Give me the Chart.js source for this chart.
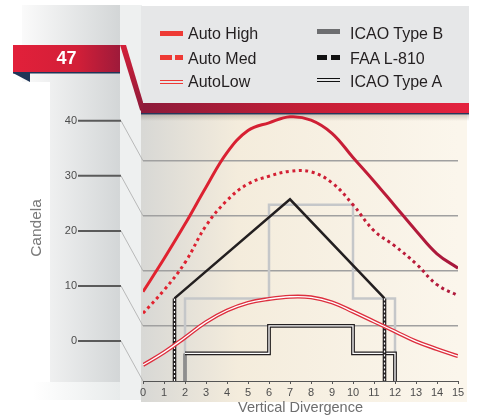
<!DOCTYPE html>
<html>
<head>
<meta charset="utf-8">
<script src="https://cdn.jsdelivr.net/npm/chart.js@4.4.1/dist/chart.umd.min.js"></script>
<style>
  html, body { margin:0; padding:0; background:#fff; }
  #wrap { position:relative; width:477px; height:420px; overflow:hidden; font-family:"Liberation Sans", Arial, sans-serif; }
  #chart { position:absolute; left:0; top:0; }
  .txt { position:absolute; font-size:16px; line-height:18px; color:#231f20; white-space:nowrap; }
  .sw { position:absolute; }
  #badge { position:absolute; left:13px; top:45px; width:107px; height:27px; line-height:27px; text-align:center;
           color:#fff; font-weight:bold; font-size:18px; }
  #ylab { position:absolute; left:-14px; top:219px; width:100px; text-align:center; font-size:15.5px; line-height:18px;
          color:#7a7a7a; transform:rotate(-90deg); }
</style>
</head>
<body>
<div id="wrap">
  <canvas id="chart" width="477" height="420"></canvas>
  <div id="badge">47</div>
  <div id="ylab">Candela</div>
  <div id="legend"></div>
</div>
<script>
// Data
const divergence = [0, 1, 2, 3, 4, 5, 6, 7, 8, 9, 10, 11, 12, 13, 14, 15];
const autoHigh = [16.2, 22.2, 28.5, 35.2, 41.5, 45.5, 46.9, 48, 47.4, 45, 40.6, 36.3, 31.8, 27.3, 23.1, 20.5];
const autoMed  = [12.3, 16.5, 21.5, 28.2, 32.8, 35.8, 37.2, 38.1, 38, 36, 32, 27.3, 24.5, 21.3, 17.5, 15.5];
const autoLow  = [2.9, 5.2, 7.9, 10.7, 12.8, 14.2, 14.9, 15.3, 15.2, 14.3, 12.6, 10.8, 9, 7.2, 5.8, 4.5];
const icaoBX = [2, 2, 6, 6, 10, 10, 12, 12];
const icaoBY = [0, 15, 15, 32, 32, 15, 15, 0];
const faaX = [1.5, 1.5, 7, 11.5, 11.5];
const faaY = [0, 15, 33, 15, 0];
const icaoAX = [2, 2, 6, 6, 10, 10, 12, 12];
const icaoAY = [0, 5, 5, 10, 10, 5, 5, 0];
const seriesNames = ['Auto High', 'Auto Med', 'AutoLow', 'ICAO Type B', 'FAA L-810', 'ICAO Type A'];

const pts = (xs, ys) => xs.map((x, i) => ({x: x, y: ys[i]}));
const curve = ys => pts(divergence, ys);

Chart.defaults.font.family = "'Liberation Sans', Arial, sans-serif";

// Legend (html, real text)
const legendEl = document.getElementById('legend');
const swatches = [
  '<div class="sw" style="left:160px;top:31px;width:23px;height:5px;background:#ee3a35"></div>',
  '<div class="sw" style="left:160px;top:55px;width:12px;height:5px;background:#ee3a35"></div>' +
  '<div class="sw" style="left:175px;top:55px;width:8px;height:5px;background:#ee3a35"></div>',
  '<div class="sw" style="left:160px;top:80px;width:23px;height:2px;border-top:1.5px solid #ee3a35;border-bottom:1.5px solid #ee3a35"></div>',
  '<div class="sw" style="left:317px;top:29px;width:23px;height:4.5px;background:#6d6e70"></div>',
  '<div class="sw" style="left:317px;top:55px;width:10px;height:5px;background:#111"></div>' +
  '<div class="sw" style="left:331px;top:55px;width:9px;height:5px;background:#111"></div>',
  '<div class="sw" style="left:317px;top:78px;width:23px;height:2px;border-top:1.5px solid #111;border-bottom:1.5px solid #111"></div>'
];
const rowTops = [25.3, 49.8, 73.3];
seriesNames.forEach((name, i) => {
  const col = i < 3 ? 188 : 350;
  legendEl.insertAdjacentHTML('beforeend', swatches[i] +
    '<div class="txt" style="left:' + col + 'px;top:' + rowTops[i % 3] + 'px">' + name + '</div>');
});

// page decoration behind the plot
const backdrop = {
  id: 'backdrop',
  beforeDraw(chart) {
    const {ctx, chartArea: a} = chart;
    ctx.save();
    ctx.fillStyle = '#fff';
    ctx.fillRect(0, 0, chart.width, chart.height);

    let g = ctx.createLinearGradient(20, 0, 120, 0);
    g.addColorStop(0, '#fbfbfb'); g.addColorStop(1, '#d3d6d7');
    ctx.fillStyle = g;
    ctx.fillRect(22, 5, 98, 377);
    ctx.fillStyle = '#fff';
    ctx.fillRect(0, 82, 50, 300);
    g = ctx.createLinearGradient(33, 0, 120, 0);
    g.addColorStop(0, '#ffffff'); g.addColorStop(1, '#e8ebeb');
    ctx.fillStyle = g;
    ctx.fillRect(33, 382, 87, 18);
    ctx.fillStyle = '#eef0f0';
    ctx.fillRect(120, 5, 22, 395);

    // plot background
    g = ctx.createLinearGradient(a.left, 0, a.right, 0);
    g.addColorStop(0, '#d8d8d5'); g.addColorStop(0.3, '#f4ecdc'); g.addColorStop(1, '#fbf6ec');
    ctx.fillStyle = g;
    ctx.fillRect(a.left - 2, a.top, a.right + 11 - a.left, a.bottom + 21 - a.top);

    // legend box + red band
    ctx.fillStyle = '#e6e7e8';
    ctx.fillRect(141, 6, 328, 97);
    g = ctx.createLinearGradient(141, 0, 469, 0);
    g.addColorStop(0, '#8c1a3a'); g.addColorStop(0.5, '#c41e36'); g.addColorStop(1, '#e4233f');
    ctx.fillStyle = g;
    ctx.fillRect(141, 103, 328, 10);
    ctx.fillStyle = '#26385a';
    ctx.fillRect(141, 113, 328, 1.5);
    g = ctx.createLinearGradient(0, 114.5, 0, 121);
    g.addColorStop(0, 'rgba(90,70,50,0.25)'); g.addColorStop(1, 'rgba(90,70,50,0)');
    ctx.fillStyle = g;
    ctx.fillRect(141, 114.5, 328, 7);

    // badge
    g = ctx.createLinearGradient(13, 0, 120, 0);
    g.addColorStop(0, '#e2203a'); g.addColorStop(0.6, '#d21f38'); g.addColorStop(1, '#9e1a3a');
    ctx.fillStyle = g;
    ctx.fillRect(13, 45, 107, 27);
    ctx.fillStyle = '#1f3557';
    ctx.fillRect(13, 72, 107, 1.5);
    ctx.beginPath();
    ctx.moveTo(13, 73); ctx.lineTo(30, 73); ctx.lineTo(30, 82); ctx.closePath();
    ctx.fill();

    // slanted strip joining badge and band
    g = ctx.createLinearGradient(0, 45, 0, 113);
    g.addColorStop(0, '#d42039'); g.addColorStop(1, '#8c1a3a');
    ctx.fillStyle = g;
    ctx.beginPath();
    ctx.moveTo(120, 45); ctx.lineTo(126, 45); ctx.lineTo(143, 102);
    ctx.lineTo(143, 113); ctx.lineTo(140, 110); ctx.closePath();
    ctx.fill();
    ctx.restore();
  }
};

// lines linking the offset left labels to the gridlines
const connectors = {
  id: 'connectors',
  afterDraw(chart) {
    const {ctx} = chart;
    const y = chart.scales.y;
    ctx.save();
    y.ticks.forEach(t => {
      const gy = y.getPixelForValue(t.value);
      const ly = gy - 40;
      ctx.strokeStyle = '#5a5a5a';
      ctx.lineWidth = 2;
      ctx.beginPath(); ctx.moveTo(78, ly); ctx.lineTo(121, ly); ctx.stroke();
      ctx.strokeStyle = '#a0a0a0';
      ctx.lineWidth = 0.7;
      ctx.beginPath(); ctx.moveTo(121, ly); ctx.lineTo(143, gy); ctx.stroke();
    });
    ctx.restore();
  }
};

function redGrad(c, from, to) {
  const a = c.chart.chartArea;
  if (!a) return from;
  const g = c.chart.ctx.createLinearGradient(a.left, 0, a.right, 0);
  g.addColorStop(0, from); g.addColorStop(0.55, '#cf1f35'); g.addColorStop(1, to);
  return g;
}
const isVert = c => c.p0.parsed.x === c.p1.parsed.x;
const clear = 'rgba(0,0,0,0)';

new Chart(document.getElementById('chart'), {
  type: 'line',
  data: {
    datasets: [
      {label: 'Auto High', data: curve(autoHigh), borderColor: c => redGrad(c, '#e3232f', '#a6183d'),
       borderWidth: 3, tension: 0.4, order: 1},
      {label: 'Auto Med', data: curve(autoMed), borderColor: c => redGrad(c, '#e3232f', '#ae1a3d'),
       borderWidth: 3, borderDash: [3, 3.5], tension: 0.4, order: 2},
      {label: 'AutoLow inner', data: curve(autoLow), borderColor: '#fff', borderWidth: 1.3, tension: 0.4, order: 3},
      {label: 'AutoLow', data: curve(autoLow), borderColor: '#dd2f3e', borderWidth: 4, tension: 0.4, order: 4},
      {label: 'FAA inner', data: pts(faaX, faaY), borderWidth: 1.2, borderDash: [2, 2], tension: 0, order: 5,
       segment: {borderColor: c => isVert(c) ? '#fff' : clear}},
      {label: 'FAA L-810', data: pts(faaX, faaY), borderColor: '#231f20', tension: 0, order: 6,
       segment: {borderWidth: c => isVert(c) ? 3.6 : 2.5}},
      {label: 'ICAO A inner', data: pts(icaoAX, icaoAY), borderWidth: 1.3, tension: 0, order: 7,
       segment: {borderColor: c => c.p0DataIndex === 0 ? clear : '#fff'}},
      {label: 'ICAO Type A', data: pts(icaoAX, icaoAY), borderWidth: 3.8, tension: 0, order: 8,
       segment: {borderColor: c => c.p0DataIndex === 0 ? '#8e8e8e' : '#231f20'}},
      {label: 'ICAO Type B', data: pts(icaoBX, icaoBY), borderColor: '#c5c7c9', borderWidth: 2.5, tension: 0, order: 9}
    ]
  },
  options: {
    responsive: false,
    animation: false,
    layout: {padding: {left: 0, right: 19, top: 114, bottom: 0}},
    elements: {point: {radius: 0}, line: {borderCapStyle: 'butt', borderJoinStyle: 'miter', fill: false}},
    plugins: {legend: {display: false}, tooltip: {enabled: false}},
    scales: {
      x: {
        type: 'linear', min: 0, max: 15,
        ticks: {stepSize: 1, autoSkip: false, maxRotation: 0, padding: 2, color: '#4d4d4d', font: {size: 11}},
        grid: {drawOnChartArea: false, drawTicks: true, tickLength: 3, color: '#555'},
        border: {color: '#555', width: 1},
        title: {display: true, text: 'Vertical Divergence', color: '#6e6e6e', font: {size: 14.5}, padding: {top: 0, bottom: 3}},
        afterFit: s => { s.height = 39; }
      },
      y: {
        min: 0, max: 48.5,
        ticks: {stepSize: 10, includeBounds: false, labelOffset: -40, padding: 66, color: '#4d4d4d', font: {size: 11}},
        grid: {drawTicks: false, lineWidth: 1.5, color: c => c.tick && c.tick.value === 0 ? clear : '#a0a0a0'},
        border: {display: false},
        afterFit: s => { s.width = 143; s.paddingTop = 0; s.paddingBottom = 0; }
      }
    }
  },
  plugins: [backdrop, connectors]
});
</script>
</body>
</html>
